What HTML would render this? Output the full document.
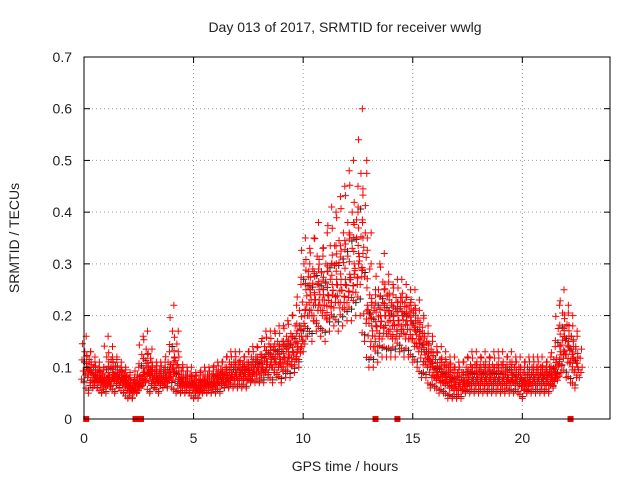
<!DOCTYPE html>
<html><head><meta charset="utf-8"><style>
body{margin:0;background:#fff}
svg text{font-family:"Liberation Sans",sans-serif;font-size:14px;fill:#222}
</style></head><body>
<svg id="chart" width="640" height="480">
<text x="345" y="32" text-anchor="middle">Day 013 of 2017, SRMTID for receiver wwlg</text>
<text x="345" y="471" text-anchor="middle">GPS time / hours</text>
<text transform="translate(19,238) rotate(-90)" text-anchor="middle">SRMTID / TECUs</text>
<g id="grid"></g><g id="black"></g><g id="red"></g><g id="axes"></g>
</svg>
<script>
const xTicks=[0,5,10,15,20];
const yTicks=[0,0.1,0.2,0.3,0.4,0.5,0.6,0.7];
const times=[0,0.2,0.4,0.6,0.8,1,1.2,1.4,1.6,1.8,2,2.2,2.4,2.6,2.8,3,3.2,3.4,3.6,3.8,4,4.2,4.4,4.6,4.8,5,5.2,5.4,5.6,5.8,6,6.2,6.4,6.6,6.8,7,7.2,7.4,7.6,7.8,8,8.2,8.4,8.6,8.8,9,9.2,9.4,9.6,9.8,10,10.2,10.4,10.6,10.8,11,11.2,11.4,11.6,11.8,12,12.2,12.4,12.6,12.8,13,13.2,13.4,13.6,13.8,14,14.2,14.4,14.6,14.8,15,15.2,15.4,15.6,15.8,16,16.2,16.4,16.6,16.8,17,17.2,17.4,17.6,17.8,18,18.2,18.4,18.6,18.8,19,19.2,19.4,19.6,19.8,20,20.2,20.4,20.6,20.8,21,21.2,21.4,21.6,21.8,22,22.2,22.4];
const lo=[.07,.05,.06,.06,.05,.05,.06,.05,.06,.05,.04,.04,.05,.06,.07,.05,.06,.05,.06,.06,.06,.05,.05,.05,.05,.04,.04,.05,.05,.05,.05,.05,.06,.06,.06,.06,.06,.06,.07,.07,.07,.07,.08,.07,.08,.07,.08,.08,.09,.1,.15,.16,.15,.17,.16,.15,.17,.18,.17,.18,.19,.19,.2,.2,.15,.1,.1,.11,.12,.12,.12,.12,.13,.12,.12,.11,.1,.08,.08,.06,.06,.05,.05,.04,.04,.04,.04,.05,.05,.05,.05,.05,.05,.05,.05,.05,.05,.05,.05,.05,.04,.05,.05,.05,.05,.05,.05,.06,.08,.09,.08,.07,.06];
const mid=[.1,.09,.08,.08,.07,.08,.09,.08,.08,.07,.06,.06,.07,.09,.1,.08,.08,.08,.08,.09,.12,.08,.07,.07,.07,.06,.06,.07,.07,.07,.08,.08,.08,.09,.09,.09,.09,.09,.1,.1,.1,.11,.12,.11,.12,.12,.13,.13,.14,.16,.25,.24,.23,.25,.24,.24,.26,.27,.26,.27,.28,.3,.32,.35,.22,.18,.18,.2,.21,.2,.19,.2,.2,.19,.19,.17,.16,.13,.12,.1,.09,.09,.08,.08,.07,.07,.07,.08,.08,.08,.08,.08,.08,.08,.08,.08,.08,.09,.08,.08,.07,.08,.08,.08,.08,.08,.08,.09,.13,.16,.14,.12,.1];
const hi=[.16,.13,.12,.11,.1,.16,.14,.12,.11,.1,.09,.08,.1,.16,.17,.11,.11,.11,.11,.13,.22,.13,.1,.1,.1,.09,.09,.1,.1,.1,.11,.11,.12,.13,.13,.13,.12,.13,.14,.14,.15,.17,.17,.17,.18,.18,.19,.2,.22,.26,.35,.33,.35,.38,.33,.36,.41,.4,.43,.45,.48,.5,.45,.6,.5,.3,.25,.3,.32,.28,.26,.27,.27,.26,.25,.25,.23,.2,.18,.16,.14,.14,.13,.12,.12,.11,.11,.12,.13,.13,.12,.13,.12,.13,.13,.13,.12,.13,.12,.12,.11,.12,.12,.12,.12,.11,.12,.14,.22,.25,.22,.2,.17];
const zeroTimes=[0.1,2.35,2.6,13.3,14.3,22.2];
const X0=84,X1=610,Y0=419,Y1=57;
const xs=t=>X0+(t/24)*(X1-X0);
const ys=v=>Y0-(v/0.7)*(Y0-Y1);
const NS='http://www.w3.org/2000/svg';
function mk(tag,attrs,parent){const e=document.createElementNS(NS,tag);for(const k in attrs)e.setAttribute(k,attrs[k]);parent.appendChild(e);return e;}
const grid=document.getElementById('grid'),axes=document.getElementById('axes');
xTicks.forEach(t=>{const x=xs(t);
 if(t>0){const g=mk('line',{x1:x,x2:x,y1:Y1,y2:Y0,stroke:'#999','stroke-dasharray':'1,3'},grid);}
 mk('line',{x1:x,x2:x,y1:Y0,y2:Y0-6,stroke:'#000'},axes);mk('line',{x1:x,x2:x,y1:Y1,y2:Y1+6,stroke:'#000'},axes);
 const l=mk('text',{x:x,y:Y0+24,'text-anchor':'middle'},axes);l.textContent=t;
 
 });
yTicks.forEach(v=>{const y=ys(v);
 if(v>0&&v<0.7){const g=mk('line',{x1:X0,x2:X1,y1:y,y2:y,stroke:'#999','stroke-dasharray':'1,3'},grid);}
 mk('line',{x1:X0,x2:X0+6,y1:y,y2:y,stroke:'#000'},axes);mk('line',{x1:X1,x2:X1-6,y1:y,y2:y,stroke:'#000'},axes);
 const l=mk('text',{x:X0-12,y:y+5,'text-anchor':'end'},axes);l.textContent=v===0?'0':v.toFixed(1);
 
 });
const frame=mk('rect',{x:X0,y:Y1,width:X1-X0,height:Y0-Y1,fill:'none',stroke:'#000'},axes);


function plus(x,y,c,g){const p=mk('path',{d:`M${x-3.5},${y}h7M${x},${y-3.5}v7`,stroke:c,'stroke-width':1},g);
 
 }
const red=document.getElementById('red'),black=document.getElementById('black');
const fr=[0,0.12,0.25,0.38,0.5,0.62,0.75,0.88,1];
const dx=[0,-2.4,1.6,-0.8,2.8,-2,0.8,-1.6,2.2];
times.forEach((t,i)=>{
 fr.forEach((f,k)=>{
  const v=f<=0.5? lo[i]+(mid[i]-lo[i])*(f/0.5) : mid[i]+(hi[i]-mid[i])*((f-0.5)/0.5);
  const x=xs(t)+dx[k];
  if(k%4===1) plus(x+2.5,ys(v)+2,'#222',black);
  plus(x,ys(v),'#f00',red);
  plus(x+4.4,ys((v+mid[i])/2),'#f00',red);
 });
});
zeroTimes.forEach(t=>{const r=mk('rect',{x:xs(t)-3,y:Y0-3,width:6,height:6,fill:'#f00'},red);
 
 });
</script>
</body></html>
